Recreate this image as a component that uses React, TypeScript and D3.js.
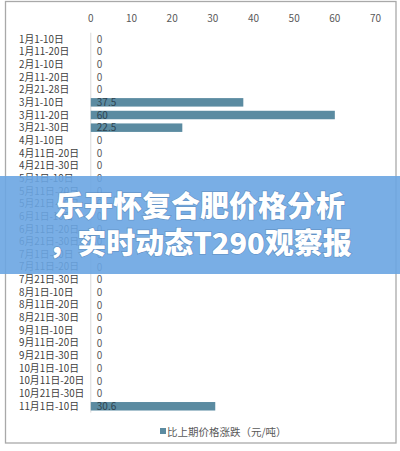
import React from "react";
import * as d3 from "d3";

const categories: string[] = [
  "1月1-10日", "1月11-20日", "2月1-10日", "2月11-20日", "2月21-28日",
  "3月1-10日", "3月11-20日", "3月21-30日", "4月1-10日", "4月11日-20日",
  "4月21日-30日", "5月1日-10日", "5月11日-20日", "5月21日-30日", "6月1日-10日",
  "6月11日-20日", "6月21日-30日", "7月1日-10日", "7月11日-20日", "7月21日-30日",
  "8月1日-10日", "8月11日-20日", "8月21日-30日", "9月1日-10日", "9月11日-20日",
  "9月21日-30日", "10月1日-10日", "10月11日-20日", "10月21日-30日", "11月1日-10日",
];
const values: number[] = [
  0, 0, 0, 0, 0,
  37.5, 60, 22.5, 0, 0,
  0, 0, 0, 0, 0,
  0, 0, 0, 0, 0,
  0, 0, 0, 0, 0,
  0, 0, 0, 0, 30.6,
];
const xTicks: number[] = [0, 10, 20, 30, 40, 50, 60, 70];
const seriesName = "比上期价格涨跌（元/吨）";
const titleLines: string[] = ["乐开怀复合肥价格分析", "，实时动态T290观察报"];

const W = 400;
const H = 451;
const FONT = "'Microsoft YaHei','Noto Sans CJK SC','Noto Sans',sans-serif";

export default function App() {
  const x = d3.scaleLinear().domain([0, 70]).range([90.8, 375.5]);
  const y = d3
    .scaleBand<string>()
    .domain(categories)
    .range([32.7, 412.6])
    .paddingInner(0.33)
    .paddingOuter(0.165);
  const barColor = "#5b8ba1";

  return (
    <svg
      width={W}
      height={H}
      viewBox={`0 0 ${W} ${H}`}
      style={{ position: "absolute", left: 0, top: 0, background: "#fff" }}
    >
      <rect x={0} y={0} width={W} height={H} fill="#fff" />
      {/* chart frame */}
      <rect x={5.5} y={1.5} width={390.5} height={441.5} fill="none" stroke="#a9a9a9" strokeWidth={1.3} />

      {/* top tick labels */}
      {xTicks.map((t) => (
        <text
          key={t}
          x={x(t)}
          y={22}
          fontSize={10}
          fontFamily={FONT}
          fill="#595959"
          textAnchor="middle"
        >
          {t}
        </text>
      ))}

      {/* category axis line */}
      <line x1={x(0)} x2={x(0)} y1={32.7} y2={412.6} stroke="#d9d9d9" strokeWidth={1} />

      {/* category labels */}
      {categories.map((c) => (
        <text
          key={c}
          x={19}
          y={(y(c) as number) + y.bandwidth() / 2}
          dy="0.36em"
          fontSize={9.8}
          fontFamily={FONT}
          fill="#404040"
        >
          {c}
        </text>
      ))}

      {/* bars */}
      {categories.map((c, i) =>
        values[i] > 0 ? (
          <rect
            key={"b" + c}
            x={x(0)}
            y={y(c) as number}
            width={x(values[i]) - x(0)}
            height={y.bandwidth()}
            fill={barColor}
          />
        ) : null
      )}

      {/* data labels */}
      {categories.map((c, i) => (
        <text
          key={"l" + c}
          x={x(0) + 6}
          y={(y(c) as number) + y.bandwidth() / 2}
          dy="0.36em"
          fontSize={10}
          fontFamily={FONT}
          fill={values[i] > 0 ? "#2f4450" : "#595959"}
        >
          {values[i]}
        </text>
      ))}

      {/* legend */}
      <rect x={160} y={428} width={6} height={6} fill={barColor} />
      <text x={167} y={435.5} fontSize={10.5} fontFamily={FONT} fill="#595959">
        {seriesName}
      </text>

      {/* banner overlay */}
      <rect x={0} y={176} width={W} height={98} fill="#6aa5e2" opacity={0.9} />
      {titleLines.map((t, i) => (
        <text
          key={t}
          x={200}
          y={217 + i * 37}
          fontSize={29}
          fontWeight={900}
          fontFamily="'Noto Sans CJK SC',sans-serif"
          fill="#fff"
          textAnchor="middle"
          style={{ paintOrder: "stroke" }}
          stroke="rgba(40,70,110,0.25)"
          strokeWidth={1.5}
        >
          {t}
        </text>
      ))}
    </svg>
  );
}
